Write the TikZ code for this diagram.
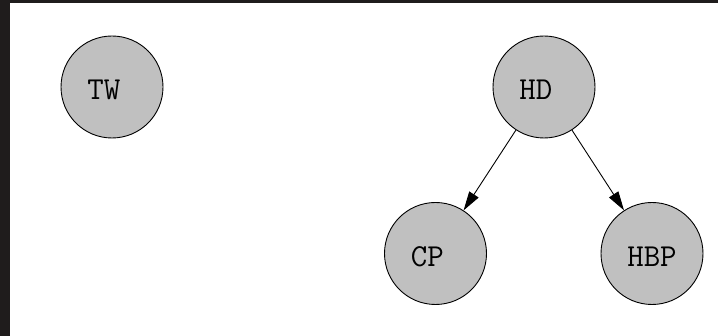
\documentclass[tikz,border=0pt]{standalone}
\usetikzlibrary{arrows.meta}
\definecolor{frame}{HTML}{1F1C1C}
\definecolor{nodegray}{HTML}{C0C0C0}
\begin{document}
\begin{tikzpicture}[x=1pt,y=1pt,
  state/.style={circle,draw=black,line width=0.9pt,fill=nodegray,minimum size=102pt,inner sep=0pt,
    font=\fontsize{32}{36}\selectfont\ttfamily,text height=25.5pt,text depth=0pt},
  edge/.style={draw=black,line width=0.9pt,-{Triangle[length=19pt,width=11pt]}}]
\fill[frame] (0,0) rectangle (718,336);
\fill[white] (10,0) rectangle (718,333);
\useasboundingbox (0,0) rectangle (718,336);
\node[state] (TW) at (112,249) {TW\phantom{x}};
\node[state] (HD) at (544,249) {HD\phantom{x}};
\node[state] (CP) at (435.5,82.5) {CP\phantom{x}};
\node[state] (HBP) at (652,82.5) {HBP};
\draw[edge] (HD) -- (CP);
\draw[edge] (HD) -- (HBP);
\end{tikzpicture}
\end{document}
